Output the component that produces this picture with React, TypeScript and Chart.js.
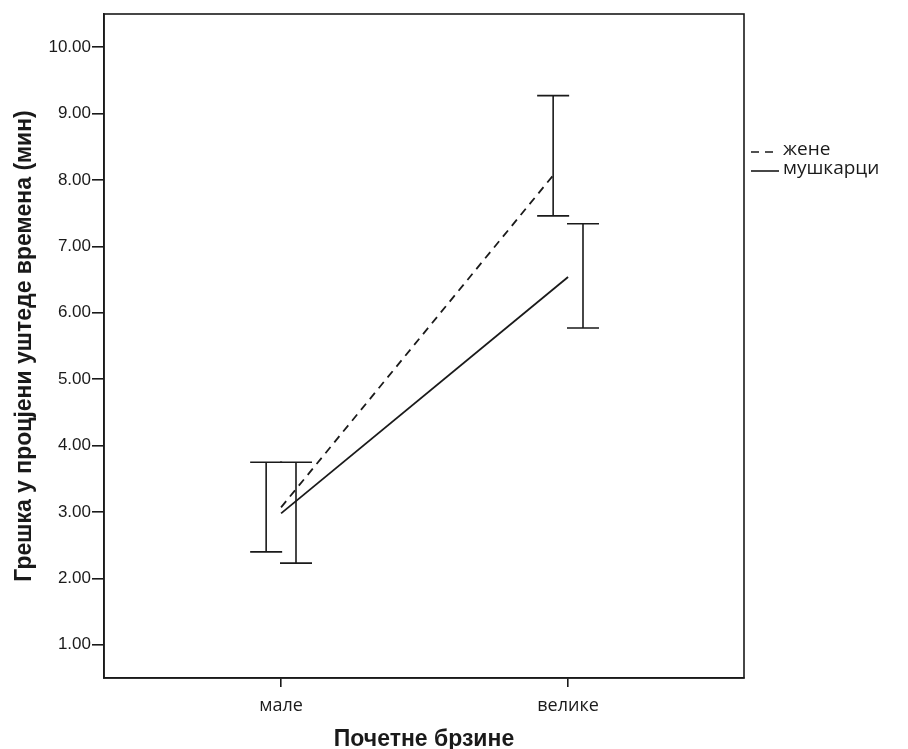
import React, { useEffect, useRef } from 'react';
import { Chart, registerables } from 'chart.js';

Chart.register(...registerables);

const categories = ['мале', 'велике'];
const seriesNames = ['жене', 'мушкарци'];
const femaleMeans = [3.07, 8.07];
const femaleLow = [2.40, 7.46];
const femaleHigh = [3.75, 9.27];
const maleMeans = [2.98, 6.54];
const maleLow = [2.23, 5.77];
const maleHigh = [3.75, 7.34];
const yTicks = [1, 2, 3, 4, 5, 6, 7, 8, 9, 10];

const DODGE = 0.052;
const INK = '#1a1a1a';

export default function App() {
  const ref = useRef<HTMLCanvasElement>(null);
  useEffect(() => {
    document.body.style.margin = '0';
    const ctx = ref.current!.getContext('2d')!;

    const errorBars = {
      id: 'errorBars',
      afterDatasetsDraw(chart: any) {
        const { ctx, scales, chartArea } = chart;
        const xs = scales.x, ys = scales.y;
        ctx.save();
        ctx.strokeStyle = INK;
        ctx.lineWidth = 1.6;
        const draw = (xv: number, lo: number, hi: number) => {
          const x = xs.getPixelForValue(xv);
          const y1 = ys.getPixelForValue(lo);
          const y2 = ys.getPixelForValue(hi);
          const cap = 16;
          ctx.beginPath();
          ctx.moveTo(x, y1); ctx.lineTo(x, y2);
          ctx.moveTo(x - cap, y1); ctx.lineTo(x + cap, y1);
          ctx.moveTo(x - cap, y2); ctx.lineTo(x + cap, y2);
          ctx.stroke();
        };
        categories.forEach((_, i) => {
          draw(i - DODGE, femaleLow[i], femaleHigh[i]);
          draw(i + DODGE, maleLow[i], maleHigh[i]);
        });
        // frame
        ctx.lineWidth = 1.6;
        ctx.strokeRect(chartArea.left, chartArea.top, chartArea.right - chartArea.left, chartArea.bottom - chartArea.top);
        // legend
        const lx = chartArea.right + 7;
        ctx.font = '19px "Open Sans"';
        ctx.fillStyle = INK;
        ctx.textBaseline = 'middle';
        ctx.textAlign = 'left';
        const rows = [152, 171];
        seriesNames.forEach((name, i) => {
          ctx.beginPath();
          ctx.setLineDash(i === 0 ? [8, 6] : []);
          ctx.moveTo(lx, rows[i]);
          ctx.lineTo(lx + 28, rows[i]);
          ctx.stroke();
          ctx.setLineDash([]);
          ctx.fillText(name, lx + 32, rows[i] - 2);
        });
        ctx.restore();
      },
    };

    const chart = new Chart(ctx, {
      type: 'scatter',
      data: {
        datasets: [
          {
            label: seriesNames[0],
            data: [
              { x: 0, y: femaleMeans[0] },
              { x: 1 - DODGE, y: femaleMeans[1] },
            ],
            showLine: true,
            borderColor: INK,
            borderWidth: 1.8,
            borderDash: [8, 6],
            pointRadius: 0,
          },
          {
            label: seriesNames[1],
            data: [
              { x: 0, y: maleMeans[0] },
              { x: 1, y: maleMeans[1] },
            ],
            showLine: true,
            borderColor: INK,
            borderWidth: 1.8,
            pointRadius: 0,
          },
        ],
      },
      options: {
        responsive: false,
        animation: false,
        layout: { padding: { top: 14, right: 164, left: 0, bottom: 0 } },
        plugins: { legend: { display: false }, tooltip: { enabled: false } },
        scales: {
          x: {
            type: 'linear',
            min: -0.617,
            max: 1.613,
            afterBuildTicks: (s: any) => { s.ticks = categories.map((_, i) => ({ value: i })); },
            afterFit: (s: any) => { s.height = 71; },
            ticks: {
              callback: (v: any) => categories[v as number] ?? '',
              color: INK,
              font: { family: '"Open Sans"', size: 18 },
              padding: 8,
              maxRotation: 0,
            },
            grid: { display: true, drawOnChartArea: false, drawTicks: true, tickLength: 9, color: INK, lineWidth: 1.6 },
            border: { display: true, color: INK, width: 1.6 },
            title: {
              display: true,
              text: 'Почетне брзине',
              color: INK,
              font: { family: '"Liberation Sans", Arial, sans-serif', size: 23, weight: 'bold', lineHeight: 0.8 },
              padding: { top: 0, bottom: 0 },
            },
          },
          y: {
            type: 'linear',
            min: 0.5,
            max: 10.5,
            afterBuildTicks: (s: any) => { s.ticks = yTicks.map((v) => ({ value: v })); },
            afterFit: (s: any) => { s.width = 104; },
            ticks: {
              callback: (v: any) => Number(v).toFixed(2),
              color: INK,
              font: { family: '"Liberation Sans", Arial, sans-serif', size: 17 },
              padding: 1,
            },
            grid: { display: true, drawOnChartArea: false, drawTicks: true, tickLength: 12, color: INK, lineWidth: 1.6 },
            border: { display: true, color: INK, width: 1.6 },
            title: {
              display: true,
              text: 'Грешка у процјени уштеде времена (мин)',
              color: INK,
              font: { family: '"Liberation Sans", Arial, sans-serif', size: 23, weight: 'bold', lineHeight: 1.2 },
              padding: { top: 11, bottom: 0 },
            },
          },
        },
      },
      plugins: [errorBars],
    } as any);
    return () => chart.destroy();
  }, []);
  return (
    <div style={{ width: 908, height: 749, position: 'relative', background: '#fff' }}>
      <canvas ref={ref} width={908} height={749} style={{ display: 'block' }} />
    </div>
  );
}
